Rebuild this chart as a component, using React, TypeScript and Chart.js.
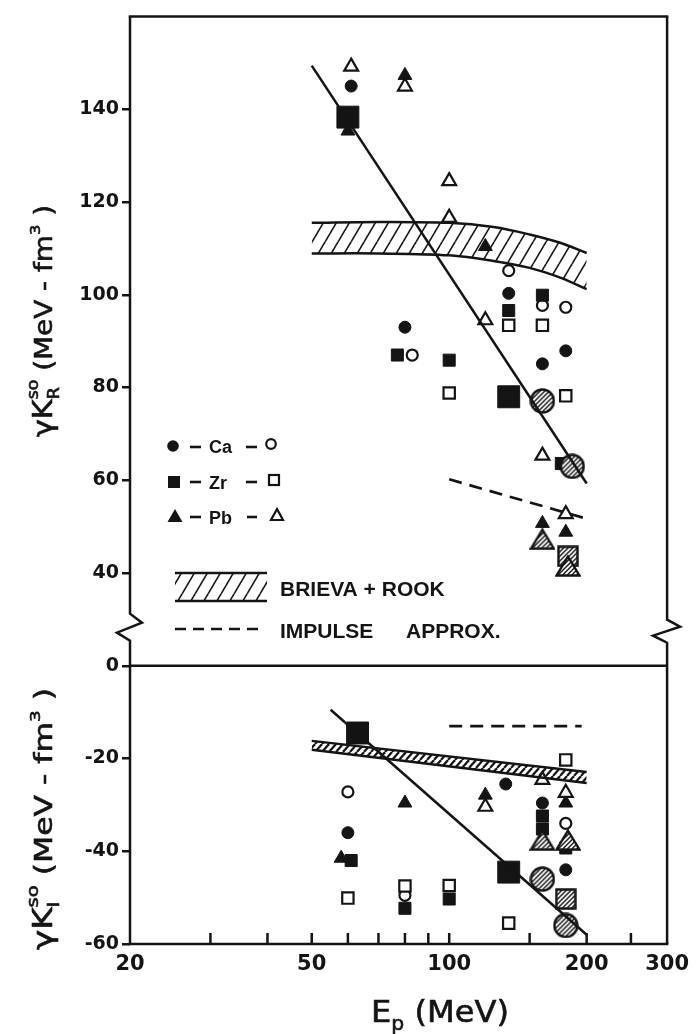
import React, { useEffect, useRef } from "react";
import { Chart, registerables } from "chart.js";

Chart.register(...registerables);

const INK = "#141414";
const TICK_FONT = "DejaVu Sans";
const TEXT_FONT = "Liberation Sans";

// ---------- axes ----------
const xTickValues = [20, 30, 40, 50, 60, 70, 80, 90, 100, 150, 200, 250, 300];
const xTickLabels = [20, 50, 100, 200, 300];
const topYTicks = [40, 60, 80, 100, 120, 140];
const botYTicks = [-60, -40, -20, 0];

// ---------- upper panel: gamma K_R^so ----------
const caFilledR = [[61, 145], [80, 93], [135, 100.3], [160, 85.1], [180, 87.9]];
const caOpenR = [[83, 87], [135, 105.2], [160, 97.7], [180, 97.3]];
const zrFilledR = [[77, 87], [100, 85.9], [135, 96.6], [160, 99.9], [176, 63.6]];
const zrOpenR = [[100, 78.8], [135, 93.4], [160, 93.4], [180, 78.2]];
const pbFilledR = [[60, 135.3], [80, 147.3], [120, 110.4], [160, 50.7], [180, 48.8]];
const pbOpenR = [[61, 149.2], [80, 144.9], [100, 124.5], [100, 116.6], [120, 94.5], [160, 65.3], [180, 52.7]];
const bigSquareR = [[60, 138.3], [135, 78]];
const hatchCircleR = [[160, 77.1], [186, 63]];
const hatchTriangleR = [[160, 47.3], [182, 41.5]];
const hatchSquareR = [[182, 43.6]];
const fitLineR = [[50, 149.4], [200, 59.3]];
const impulseR = [[100, 60.2], [200, 51.7]];
const brievaUpperR = [[50, 115.5], [70, 115.7], [100, 115.5], [125, 114.6], [150, 113], [175, 111.2], [200, 109]];
const brievaLowerR = [[50, 108.9], [70, 108.9], [100, 108.5], [125, 107.3], [150, 105.8], [175, 103.7], [200, 101.2]];

// ---------- lower panel: gamma K_I^so ----------
const caFilledI = [[60, -36], [133, -25.5], [160, -29.6], [180, -44]];
const caOpenI = [[60, -27.2], [80, -49.5], [180, -34]];
const zrFilledI = [[61, -42], [80, -52.3], [100, -50.3], [160, -32.4], [160, -35.2], [180, -39.3]];
const zrOpenI = [[60, -50.1], [80, -47.5], [100, -47.4], [135, -55.5], [180, -20.3]];
const pbFilledI = [[58, -41.5], [80, -29.6], [120, -27.9], [180, -29.6]];
const pbOpenI = [[120, -30.4], [160, -24.6], [180, -27.4]];
const bigSquareI = [[63, -14.5], [135, -44.5]];
const hatchCircleI = [[160, -46], [180, -56]];
const hatchTriangleI = [[160, -37.6], [182, -37.6]];
const hatchSquareI = [[180, -50.3]];
const fitLineI = [[55, -9.5], [200, -58]];
const impulseI = [[100, -13], [195, -13]];
const brievaUpperI = [[50, -16.2], [200, -22.9]];
const brievaLowerI = [[50, -18.1], [200, -25.3]];

const pts = (a: number[][]) => a.map(([x, y]) => ({ x, y }));

function makeStripe(ctx: CanvasRenderingContext2D, w: number, h: number, lw: number) {
  const c = document.createElement("canvas");
  c.width = w;
  c.height = h;
  const g = c.getContext("2d")!;
  g.strokeStyle = INK;
  g.lineWidth = lw;
  for (const x0 of [-w, 0, w]) {
    g.beginPath();
    g.moveTo(x0, h);
    g.lineTo(x0 + w, 0);
    g.stroke();
  }
  return ctx.createPattern(c, "repeat")!;
}

function hatchedMarker(kind: string, w: number, h: number, sp: number) {
  const c = document.createElement("canvas");
  c.width = w;
  c.height = h;
  const g = c.getContext("2d")!;
  const p = new Path2D();
  if (kind === "circle") p.arc(w / 2, h / 2, w / 2 - 1.5, 0, Math.PI * 2);
  else if (kind === "square") p.rect(1.5, 1.5, w - 3, h - 3);
  else {
    p.moveTo(w / 2, 1.5);
    p.lineTo(w - 1.5, h - 1.5);
    p.lineTo(1.5, h - 1.5);
    p.closePath();
  }
  g.fillStyle = "#fff";
  g.fill(p);
  g.save();
  g.clip(p);
  g.strokeStyle = INK;
  g.lineWidth = 1.4;
  for (let k = -h; k < w + h; k += sp) {
    g.beginPath();
    g.moveTo(k, h);
    g.lineTo(k + h, 0);
    g.stroke();
  }
  g.restore();
  g.strokeStyle = INK;
  g.lineWidth = 2.4;
  g.lineJoin = "miter";
  g.stroke(p);
  return c;
}

type Part = { t: string; size: number; dy?: number; back?: boolean };

function drawRun(ctx: CanvasRenderingContext2D, parts: Part[], target: number) {
  const widths = parts.map((p) => {
    ctx.font = `${p.size}px "${TICK_FONT}"`;
    return ctx.measureText(p.t).width;
  });
  let total = 0;
  parts.forEach((p, i) => {
    if (!p.back) total += widths[i];
  });
  const s = target / total;
  ctx.save();
  ctx.scale(s, 1);
  let x = 0;
  parts.forEach((p, i) => {
    ctx.font = `${p.size}px "${TICK_FONT}"`;
    ctx.fillText(p.t, x, p.dy || 0);
    ctx.lineWidth = 0.6;
    ctx.strokeText(p.t, x, p.dy || 0);
    if (!p.back) x += widths[i];
  });
  ctx.restore();
}

const framePlugin = {
  id: "frameDraw",
  afterDraw(chart: any) {
    const { ctx, chartArea: a, scales } = chart;
    const yb = scales.yBot;
    const yt = scales.yTop;
    const xs = scales.x;
    const brk = yt.bottom;
    ctx.save();
    ctx.strokeStyle = INK;
    ctx.lineWidth = 2.5;
    ctx.lineJoin = "miter";
    ctx.lineCap = "square";
    ctx.beginPath();
    ctx.moveTo(a.left, a.top);
    ctx.lineTo(a.right, a.top);
    ctx.stroke();
    ctx.beginPath();
    ctx.moveTo(a.left, a.bottom);
    ctx.lineTo(a.right, a.bottom);
    ctx.stroke();
    ctx.lineCap = "butt";
    ctx.beginPath();
    ctx.moveTo(a.left, a.top);
    ctx.lineTo(a.left, brk - 15);
    ctx.lineTo(a.left + 12, brk - 6);
    ctx.lineTo(a.left - 13, brk + 4);
    ctx.lineTo(a.left, brk + 12);
    ctx.lineTo(a.left, a.bottom);
    ctx.stroke();
    ctx.beginPath();
    ctx.moveTo(a.right, a.top);
    ctx.lineTo(a.right, brk - 9);
    ctx.lineTo(a.right + 13, brk - 2);
    ctx.lineTo(a.right - 14, brk + 7);
    ctx.lineTo(a.right, brk + 14);
    ctx.lineTo(a.right, a.bottom);
    ctx.stroke();
    const z = yb.getPixelForValue(0);
    ctx.beginPath();
    ctx.moveTo(a.left, z);
    ctx.lineTo(a.right, z);
    ctx.stroke();
    for (const v of xTickValues) {
      if (v <= 20 || v >= 300) continue;
      const px = xs.getPixelForValue(v);
      ctx.beginPath();
      ctx.moveTo(px, a.bottom);
      ctx.lineTo(px, a.bottom - 11);
      ctx.stroke();
    }
    ctx.restore();
  },
};

function makeTitlePlugin(topPattern: CanvasPattern) {
  return {
    id: "titlesLegend",
    afterDraw(chart: any) {
      const ctx: CanvasRenderingContext2D = chart.ctx;
      ctx.save();
      ctx.fillStyle = INK;
      ctx.strokeStyle = INK;
      ctx.textBaseline = "alphabetic";
      ctx.textAlign = "left";

      // y titles (rotated)
      const topParts: Part[] = [
        { t: "γ", size: 26 },
        { t: "K", size: 26 },
        { t: "R", size: 15, dy: 7, back: true },
        { t: "so", size: 15, dy: -14 },
        { t: " (MeV - fm", size: 24 },
        { t: "3", size: 14, dy: -12 },
        { t: " )", size: 24 },
      ];
      ctx.save();
      ctx.translate(52, 437);
      ctx.rotate(-Math.PI / 2);
      drawRun(ctx, topParts, 232);
      ctx.restore();

      const botParts: Part[] = [
        { t: "γ", size: 26 },
        { t: "K", size: 26 },
        { t: "I", size: 15, dy: 7, back: true },
        { t: "so", size: 15, dy: -14 },
        { t: " (MeV - fm", size: 24 },
        { t: "3", size: 14, dy: -12 },
        { t: " )", size: 24 },
      ];
      ctx.save();
      ctx.translate(52, 950);
      ctx.rotate(-Math.PI / 2);
      drawRun(ctx, botParts, 262);
      ctx.restore();

      // x title
      ctx.save();
      ctx.translate(371, 1022);
      drawRun(
        ctx,
        [
          { t: "E", size: 30 },
          { t: "p", size: 19, dy: 8 },
          { t: " (MeV)", size: 30 },
        ],
        138
      );
      ctx.restore();

      // legend markers
      ctx.lineWidth = 2.2;
      const dash = (x1: number, x2: number, y: number) => {
        ctx.save();
        ctx.lineWidth = 2.6;
        ctx.beginPath();
        ctx.moveTo(x1, y);
        ctx.lineTo(x2, y);
        ctx.stroke();
        ctx.restore();
      };
      ctx.font = `bold 18px "${TEXT_FONT}"`;
      // Ca
      ctx.beginPath();
      ctx.arc(173, 446, 5.8, 0, Math.PI * 2);
      ctx.fill();
      dash(190, 201, 447);
      ctx.fillText("Ca", 209, 453);
      dash(246, 257, 447);
      ctx.beginPath();
      ctx.arc(271, 444, 4.8, 0, Math.PI * 2);
      ctx.stroke();
      // Zr
      ctx.fillRect(168, 476, 12, 12);
      dash(190, 201, 482);
      ctx.fillText("Zr", 209, 489);
      dash(246, 257, 482);
      ctx.strokeRect(269, 475, 10, 10);
      // Pb
      ctx.beginPath();
      ctx.moveTo(175, 509);
      ctx.lineTo(182.5, 522);
      ctx.lineTo(167.5, 522);
      ctx.closePath();
      ctx.fill();
      dash(190, 201, 517);
      ctx.fillText("Pb", 209, 524);
      dash(247, 257, 517);
      ctx.beginPath();
      ctx.moveTo(277, 509);
      ctx.lineTo(283, 520);
      ctx.lineTo(271, 520);
      ctx.closePath();
      ctx.stroke();

      // hatched legend box
      ctx.save();
      ctx.beginPath();
      ctx.rect(175, 573, 92, 28);
      ctx.clip();
      ctx.fillStyle = topPattern;
      ctx.fillRect(175, 573, 92, 28);
      ctx.restore();
      ctx.lineWidth = 2.5;
      ctx.beginPath();
      ctx.moveTo(175, 573);
      ctx.lineTo(267, 573);
      ctx.moveTo(175, 601);
      ctx.lineTo(267, 601);
      ctx.stroke();
      ctx.font = `bold 21px "${TEXT_FONT}"`;
      ctx.fillText("BRIEVA + ROOK", 280, 596);

      ctx.save();
      ctx.lineWidth = 2.6;
      ctx.setLineDash([11, 7]);
      ctx.beginPath();
      ctx.moveTo(175, 629);
      ctx.lineTo(262, 629);
      ctx.stroke();
      ctx.restore();
      ctx.fillText("IMPULSE", 280, 638);
      ctx.fillText("APPROX.", 406, 638);
      ctx.restore();
    },
  };
}

export default function App() {
  const ref = useRef<HTMLCanvasElement>(null);
  useEffect(() => {
    const canvas = ref.current!;
    const ctx = canvas.getContext("2d")!;
    const topPattern = makeStripe(ctx, 13, 22, 1.6);
    const botPattern = makeStripe(ctx, 7, 8, 2.2);
    const hCircle = hatchedMarker("circle", 26, 26, 4.6);
    const hTriangle = hatchedMarker("triangle", 26, 22, 4.6);
    const hSquare = hatchedMarker("square", 22, 22, 4.6);

    const mk = (data: number[][], yAxisID: string, style: any, radius: number, filled: boolean) => ({
      type: "line",
      data: pts(data),
      yAxisID,
      showLine: false,
      pointStyle: style,
      pointRadius: radius,
      pointBackgroundColor: filled ? INK : "#fff",
      pointBorderColor: INK,
      pointBorderWidth: filled ? 1 : 2.2,
      order: 1,
    });
    const ln = (data: number[][], yAxisID: string, opts: any = {}) => ({
      type: "line",
      data: pts(data),
      yAxisID,
      showLine: true,
      pointRadius: 0,
      borderColor: INK,
      borderWidth: 2.5,
      fill: false,
      backgroundColor: "transparent",
      tension: 0,
      order: 5,
      ...opts,
    });

    const datasets: any[] = [
      ln(brievaUpperR, "yTop", { tension: 0.35 }),
      ln(brievaLowerR, "yTop", { tension: 0.35, fill: "-1", backgroundColor: topPattern }),
      ln(brievaUpperI, "yBot"),
      ln(brievaLowerI, "yBot", { fill: "-1", backgroundColor: botPattern }),
      ln(fitLineR, "yTop"),
      ln(fitLineI, "yBot"),
      ln(impulseR, "yTop", { borderDash: [13, 8], borderWidth: 2.7 }),
      ln(impulseI, "yBot", { borderDash: [13, 8], borderWidth: 2.7 }),
      // small markers
      mk(caFilledR, "yTop", "circle", 6, true),
      mk(caOpenR, "yTop", "circle", 5.5, false),
      mk(zrFilledR, "yTop", "rect", 8.5, true),
      mk(zrOpenR, "yTop", "rect", 8, false),
      mk(pbFilledR, "yTop", "triangle", 8, true),
      mk(pbOpenR, "yTop", "triangle", 8, false),
      mk(caFilledI, "yBot", "circle", 6, true),
      mk(caOpenI, "yBot", "circle", 5.5, false),
      mk(zrFilledI, "yBot", "rect", 8.5, true),
      mk(zrOpenI, "yBot", "rect", 8, false),
      mk(pbFilledI, "yBot", "triangle", 8, true),
      mk(pbOpenI, "yBot", "triangle", 8, false),
      // big markers
      mk(bigSquareR, "yTop", "rect", 15.5, true),
      mk(bigSquareI, "yBot", "rect", 15.5, true),
      mk(hatchCircleR, "yTop", hCircle, 12, false),
      mk(hatchCircleI, "yBot", hCircle, 12, false),
      mk(hatchSquareR, "yTop", hSquare, 12, false),
      mk(hatchSquareI, "yBot", hSquare, 12, false),
      mk(hatchTriangleR, "yTop", hTriangle, 12, false),
      mk(hatchTriangleI, "yBot", hTriangle, 12, false),
    ];
    // later markers on top: lower order number draws on top
    datasets.forEach((d, i) => {
      if (d.order === 1) d.order = 100 - i;
    });

    const yCommon = {
      type: "linear",
      position: "left",
      stack: "v",
      ticks: {
        autoSkip: false,
        padding: 3,
        color: INK,
        font: { family: TICK_FONT, size: 19, weight: "bold" },
      },
      grid: { display: true, drawOnChartArea: false, drawTicks: true, tickLength: 8, color: INK, lineWidth: 2.5 },
      border: { display: false },
      afterFit: (s: any) => {
        s.width = 122;
      },
    };

    const chart = new Chart(canvas, {
      type: "line",
      data: { datasets },
      options: {
        animation: false,
        responsive: false,
        devicePixelRatio: 1,
        events: [],
        layout: { padding: { left: 8, right: 27, top: 13, bottom: 50 } },
        plugins: { legend: { display: false }, tooltip: { enabled: false } },
        scales: {
          x: {
            type: "logarithmic",
            min: 20,
            max: 300,
            position: "bottom",
            afterBuildTicks: (s: any) => {
              s.ticks = xTickValues.map((v) => ({ value: v }));
            },
            ticks: {
              autoSkip: false,
              maxRotation: 0,
              padding: 8,
              color: INK,
              font: { family: TICK_FONT, size: 21, weight: "bold" },
              callback: (v: any) => (xTickLabels.includes(Number(v)) ? String(v) : ""),
            },
            grid: { display: true, drawOnChartArea: false, drawTicks: false },
            border: { display: false },
            afterFit: (s: any) => {
              s.height = 40;
            },
          },
          yBot: {
            ...yCommon,
            stackWeight: 68,
            min: -60,
            max: 8,
            afterBuildTicks: (s: any) => {
              s.ticks = botYTicks.map((v) => ({ value: v }));
            },
          },
          yTop: {
            ...yCommon,
            stackWeight: 132,
            min: 28,
            max: 160,
            afterBuildTicks: (s: any) => {
              s.ticks = topYTicks.map((v) => ({ value: v }));
            },
          },
        } as any,
      },
      plugins: [framePlugin, makeTitlePlugin(topPattern)],
    } as any);
    return () => chart.destroy();
  }, []);
  return (
    <div style={{ position: "absolute", left: 0, top: 0, width: 697, height: 1034, background: "#fff" }}>
      <canvas ref={ref} width={697} height={1034} style={{ display: "block" }} />
    </div>
  );
}
